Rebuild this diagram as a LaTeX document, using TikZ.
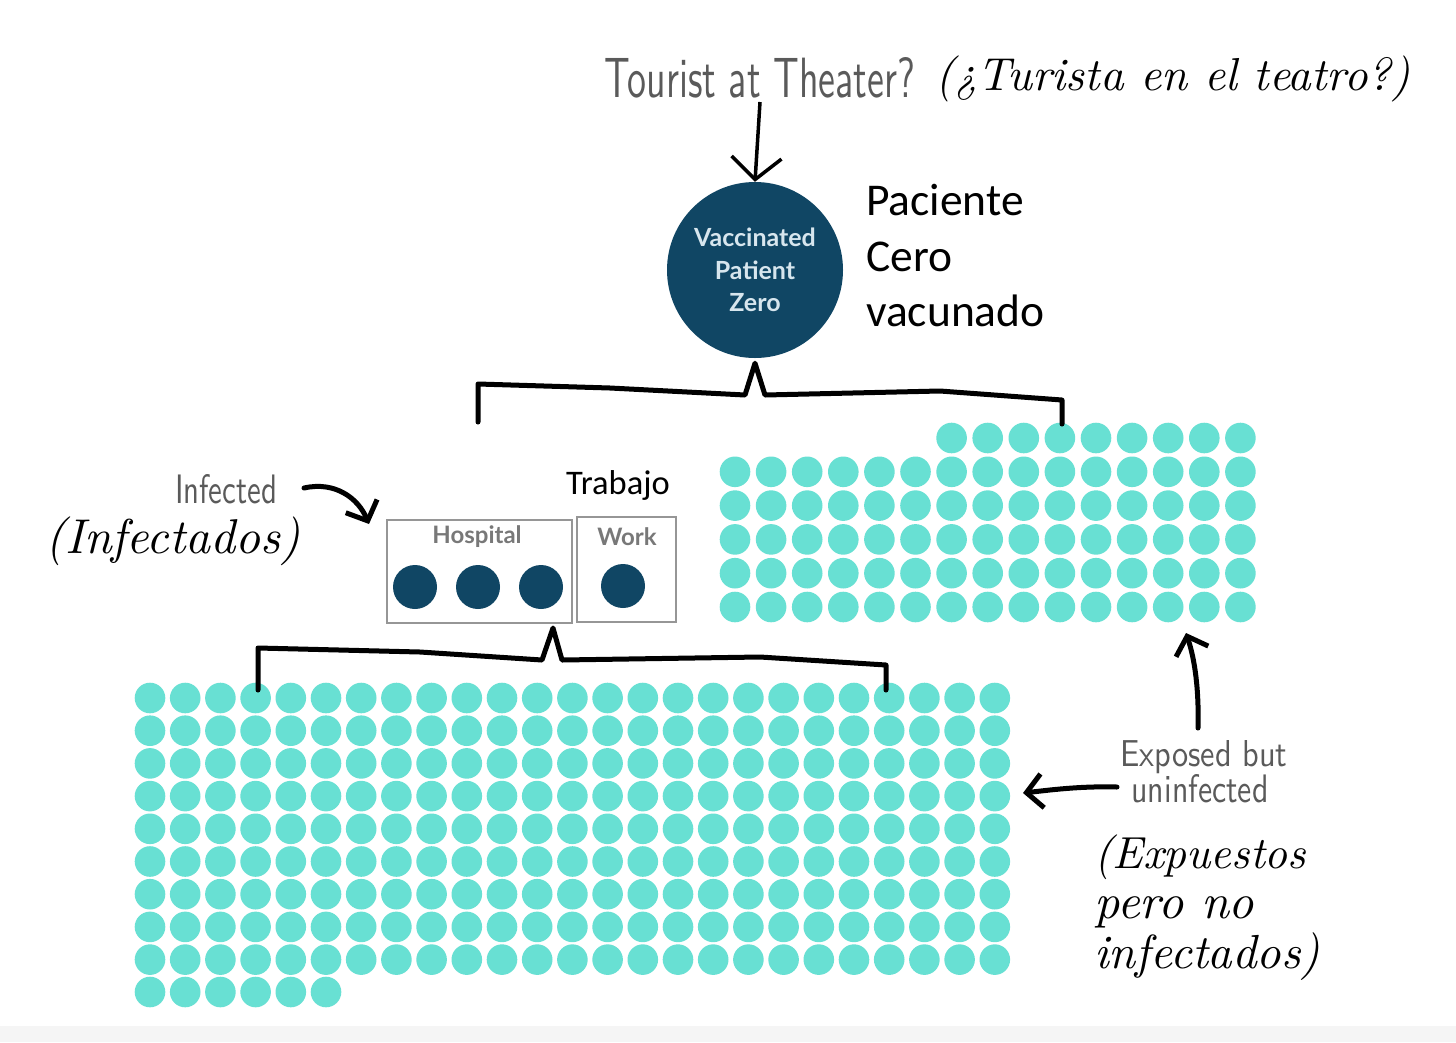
\documentclass[tikz,border=0pt]{standalone}
\usepackage{fontspec}
\newfontfamily\calfont{Carlito}
\newfontfamily\latofont{Lato}
\usetikzlibrary{arrows.meta}
\definecolor{navy}{RGB}{16,70,100}
\definecolor{dotteal}{RGB}{104,224,211}
\definecolor{handgray}{RGB}{90,90,90}
\definecolor{boxgray}{RGB}{150,150,150}
\definecolor{labgray}{RGB}{120,120,120}
\definecolor{pztext}{RGB}{215,230,238}
\newcommand\handtxt[3]{\resizebox{#1}{#2}{\sffamily #3}}
\newcommand\scripttxt[2]{\resizebox{#1}{!}{\itshape #2}}
\tikzset{
  hand/.style={anchor=base, inner sep=0pt, text=handgray},
  scriptlbl/.style={anchor=base west, inner sep=0pt, text=black},
  pzstyle/.style={circle, fill=navy, minimum size=176pt, inner sep=0pt, text=pztext, align=center,
    font=\latofont\bfseries\fontsize{25}{32.5}\selectfont},
  boxstyle/.style={draw=boxgray, line width=2pt, fill=white, inner sep=0pt},
  boxlabel/.style={text=labgray, font=\latofont\bfseries\fontsize{24}{26}\selectfont, inner sep=0pt},
  callbl/.style={anchor=base west, inner sep=0pt, font=\calfont\fontsize{45.5}{56}\selectfont},
  bracket/.style={line width=5pt, line join=round, line cap=round},
  thinarrow/.style={line width=3.5pt, -{Straight Barb[length=22pt,width=50pt,line width=3.5pt]}},
  thickarrow/.style={line width=5pt, line cap=round, -{Straight Barb[length=16pt,width=34pt,line width=5pt]}}
}
\begin{document}
\begin{tikzpicture}[x=1pt,y=-1pt]
\useasboundingbox (0,0) rectangle (1456,1042);
\fill[white] (0,0) rectangle (1456,1042);
\fill[black!4] (0,1026) rectangle (1456,1042);

% teal dot grids
\foreach \c in {6,...,14}{\fill[dotteal] ({735+36.1*\c},438) circle (15.3pt);}
\foreach \r in {1,...,5}{\foreach \c in {0,...,14}{\fill[dotteal] ({735+36.1*\c},{438+33.8*\r}) circle (15.3pt);}}
\foreach \r in {0,...,8}{\foreach \c in {0,...,24}{\fill[dotteal] ({150+35.2*\c},{698+32.7*\r}) circle (15.3pt);}}
\foreach \c in {0,...,5}{\fill[dotteal] ({150+35.2*\c},992) circle (15.3pt);}

% patient zero
\node[pzstyle] (pz) at (755,270) {Vaccinated\\Patient\\Zero};
\node[callbl] (pac1) at (866,215) {Paciente};
\node[callbl] (pac2) at (866,271) {Cero};
\node[callbl] (pac3) at (866,326) {vacunado};

% tourist
\node[hand] (tourist) at (760,97) {\handtxt{310pt}{40pt}{Tourist at Theater?}};
\node[scriptlbl] (turista) at (935,90) {\scripttxt{475pt}{(¿Turista en el teatro?)}};
\coordinate (ta) at (760,102);
\draw[thinarrow] (ta) -- (pz.north);

% boxes
\node[boxstyle, minimum width=185pt, minimum height=103pt] (hosp) at (479.5,571.5) {};
\node[boxstyle, minimum width=99pt, minimum height=105pt] (work) at (626.5,569.5) {};
\node[boxlabel] (hl) at (477,537) {Hospital};
\node[boxlabel] (wl) at (627,537) {Work};
\foreach \x/\y in {415/587, 478/587, 541/587, 623/586}{\fill[navy] (\x,\y) circle (22pt);}
\node[inner sep=0pt, font=\calfont\fontsize{34.5}{40}\selectfont] (trabajo) at (618,485) {Trabajo};

% infected
\node[hand] (infected) at (226,503) {\handtxt{102pt}{29pt}{Infected}};
\node[scriptlbl] (infectados) at (45,553) {\scripttxt{255pt}{(Infectados)}};
\coordinate (ia) at (304,488);
\coordinate (ib) at (369,524);
\draw[thickarrow] (ia) .. controls (335,481) and (358,498) .. (ib);

% brackets
\coordinate (tb1) at (478,422);
\coordinate (tb2) at (1062,424);
\draw[bracket] (tb1) -- (478,384) -- (610,388) -- (745,395) -- ([yshift=-5pt]pz.south) -- (765,395) -- (940,391) -- (1062,400) -- (tb2);
\coordinate (bb1) at (258,690);
\coordinate (bb2) at (886,690);
\draw[bracket] (bb1) -- (258,648) -- (420,652) -- (542,660) -- ([xshift=-20pt,yshift=-4pt]hosp.south east) -- (562,660) -- (760,657) -- (886,665) -- (bb2);

% exposed
\node[hand] (exp1) at (1204,766) {\handtxt{167pt}{26pt}{Exposed but}};
\node[hand] (exp2) at (1200,802) {\handtxt{137pt}{28pt}{uninfected}};
\node[scriptlbl] (expu1) at (1094,868) {\scripttxt{212pt}{(Expuestos}};
\node[scriptlbl] (expu2) at (1094,918) {\scripttxt{160pt}{pero no}};
\node[scriptlbl] (expu3) at (1094,968) {\scripttxt{226pt}{infectados)}};
\coordinate (ea) at (1117,787);
\coordinate (eb) at (1023,793);
\draw[thickarrow] (ea) .. controls (1080,786) and (1050,790) .. (eb);
\coordinate (ec) at (1198,728);
\coordinate (ed) at (1186,633);
\draw[thickarrow] (ec) .. controls (1199,690) and (1195,660) .. (ed);
\end{tikzpicture}
\end{document}
